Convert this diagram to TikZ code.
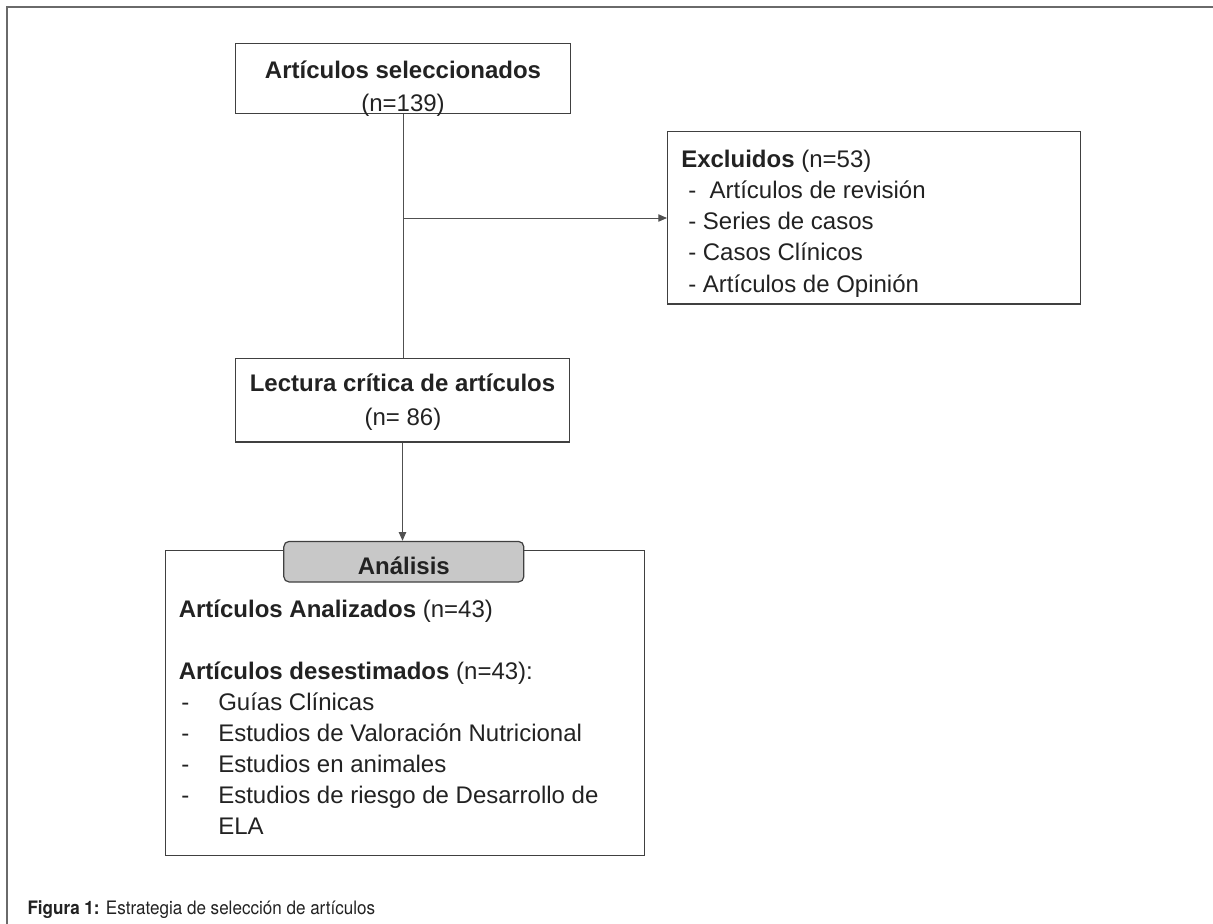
\documentclass[tikz,border=0pt]{standalone}
\usepackage{fontspec}
\setmainfont{Liberation Sans}
\newfontfamily\capfont[FakeStretch=0.92]{TeX Gyre Heros}
\usetikzlibrary{arrows.meta}
\definecolor{ink}{HTML}{222222}
\definecolor{linec}{HTML}{404040}
\definecolor{connc}{HTML}{505050}
\definecolor{framec}{HTML}{6A6A6A}
\definecolor{tabfill}{HTML}{C8C8C8}
\begin{document}
\begin{tikzpicture}[x=0.75pt,y=-0.75pt,
  box/.style={draw=linec, line width=0.9pt, rectangle, inner sep=0pt},
  tabbox/.style={draw=linec, line width=0.9pt, fill=tabfill, rectangle, rounded corners=4pt, inner sep=0pt},
  txt/.style={inner sep=0pt, text=ink, font=\fontsize{18}{22}\selectfont},
  captxt/.style={inner sep=0pt, text=ink, font=\capfont\fontsize{13.9}{16}\selectfont},
  conn/.style={draw=connc, line width=0.75pt},
  arr/.style={conn, -{Triangle[length=6.5pt,width=5.5pt]}}]
\useasboundingbox (0,0) rectangle (1213,924);
% outer frame
\draw[framec, line width=1.5pt] (6.7,924) -- (6.7,7.3) -- (1213,7.3);

% boxes
\node[box, minimum width=251.25pt, minimum height=52.8pt] (sel) at (403,78.5) {};
\node[box, minimum width=309.9pt, minimum height=129.4pt] (exc) at (874.2,217.75) {};
\node[box, minimum width=250.6pt, minimum height=62.85pt] (lec) at (402.5,400) {};
\node[box, minimum width=359.1pt, minimum height=228.6pt] (ana) at (405.2,702.8) {};
\node[tabbox, minimum width=180pt, minimum height=30.45pt] (tab) at (403.8,561.7) {};

% connectors
\coordinate (j) at (403,218);
\draw[conn] (sel.south) -- (sel.south |- lec.north);
\draw[arr] (j) -- (j -| exc.west);
\draw[arr] (lec.south) -- (lec.south |- tab.north);

% texts: selected
\node[txt, anchor=base] (selA) at (403,79) {\bfseries Artículos seleccionados};
\node[txt, anchor=base] (selB) at (403,111.7) {(n=139)};

% excluded
\node[txt, anchor=base west] (excA) at (681,167.2) {\textbf{Excluidos} (n=53)};
\node[txt, anchor=base west] (excB) at (688,198.4) {-\ \ Artículos de revisión};
\node[txt, anchor=base west] (excC) at (688,229.6) {- Series de casos};
\node[txt, anchor=base west] (excD) at (688,260.8) {- Casos Clínicos};
\node[txt, anchor=base west] (excE) at (688,292) {- Artículos de Opinión};

% critical reading
\node[txt, anchor=base] (lecA) at (402.5,391.7) {\bfseries Lectura crítica de artículos};
\node[txt, anchor=base] (lecB) at (403,425) {(n= 86)};

% analysis
\node[txt, anchor=base] (tabT) at (403.8,574.5) {\bfseries Análisis};
\node[txt, anchor=base west] (anaA) at (178.5,617.2) {\textbf{Artículos Analizados} (n=43)};
\node[txt, anchor=base west] (anaB) at (178.5,679) {\textbf{Artículos desestimados} (n=43):};
\node[txt, anchor=base west] (d1) at (181,710.8) {-};
\node[txt, anchor=base west] (i1) at (218,710.8) {Guías Clínicas};
\node[txt, anchor=base west] (d2) at (181,741.6) {-};
\node[txt, anchor=base west] (i2) at (218,741.6) {Estudios de Valoración Nutricional};
\node[txt, anchor=base west] (d3) at (181,772.4) {-};
\node[txt, anchor=base west] (i3) at (218,772.4) {Estudios en animales};
\node[txt, anchor=base west] (d4) at (181,803.4) {-};
\node[txt, anchor=base west] (i4) at (218,803.4) {Estudios de riesgo de Desarrollo de};
\node[txt, anchor=base west] (i5) at (218,834.5) {ELA};

% caption
\node[captxt, anchor=base west] (cap) at (27.3,914.3) {\textbf{Figura 1:} Estrategia de selección de artículos};
\end{tikzpicture}
\end{document}
